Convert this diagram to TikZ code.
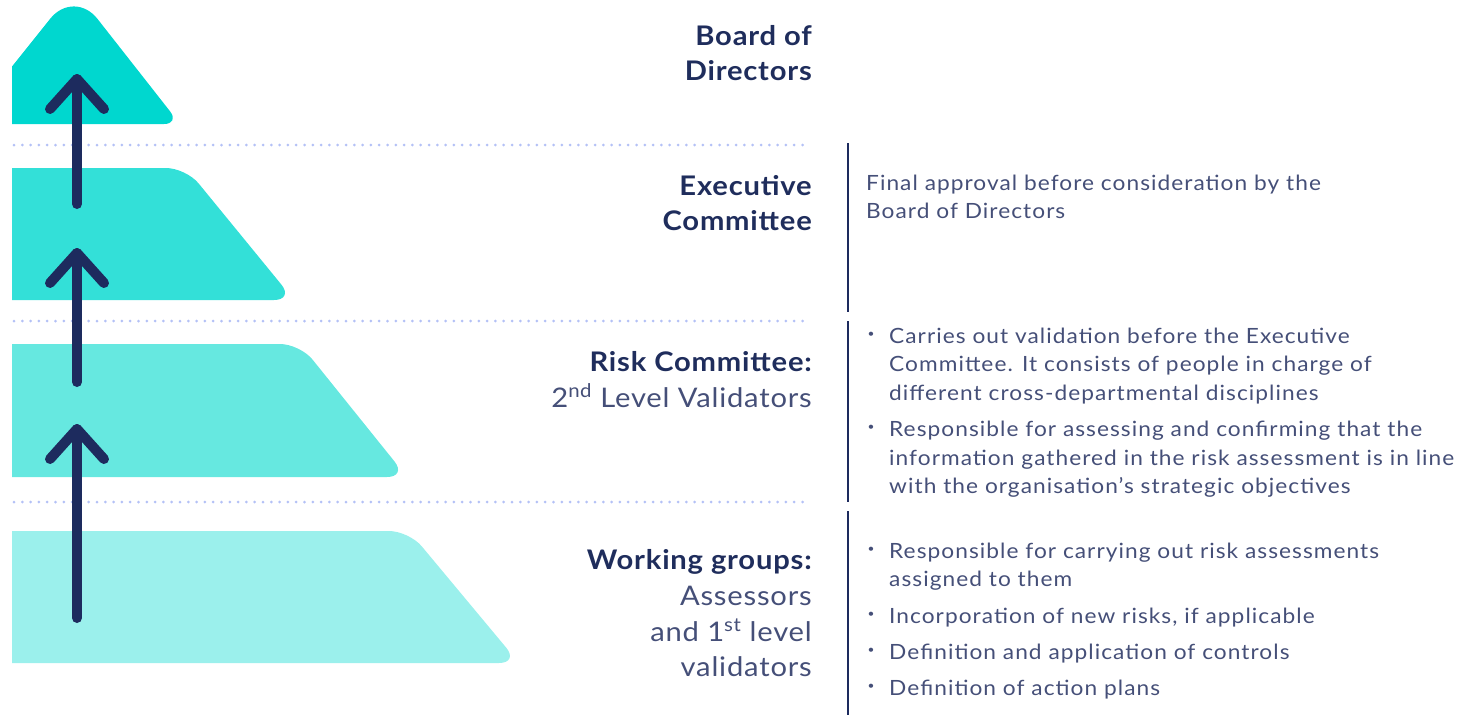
\documentclass[tikz,border=0pt]{standalone}
\usepackage{fontspec}
\setmainfont[FakeStretch=1.08, LetterSpace=3]{Lato}
\usetikzlibrary{calc}
\definecolor{lay1}{HTML}{00D7CF}
\definecolor{lay2}{HTML}{33E0D8}
\definecolor{lay3}{HTML}{66E8E0}
\definecolor{lay4}{HTML}{9BF0EC}
\definecolor{navy}{HTML}{1D2B5E}
\definecolor{headc}{HTML}{1F2D5C}
\definecolor{bodyc}{HTML}{454F78}
\definecolor{dotc}{HTML}{B4C1F6}
\tikzset{
  head/.style={anchor=base east, inner sep=0pt, text=headc, font=\fontsize{27}{33}\selectfont\bfseries},
  sub/.style={anchor=base east, inner sep=0pt, text=bodyc, font=\fontsize{27}{33}\selectfont},
  body/.style={anchor=base west, inner sep=0pt, text=bodyc, font=\fontsize{21}{28}\selectfont\addfontfeature{LetterSpace=5}},
  bul/.style={anchor=center, inner sep=0pt, text=bodyc, font=\fontsize{11}{11}\selectfont},
  uparrow/.style={draw=navy, line width=10pt, line cap=round, line join=round},
  dotline/.style={draw=dotc, line width=3pt, line cap=round, dash pattern=on 0pt off 8.3pt},
  sep/.style={draw=navy, line width=2.6pt}
}
\begin{document}
\begin{tikzpicture}[x=1pt,y=-1pt]
\useasboundingbox (0,0) rectangle (1461,715);
% layers
\begin{scope}
\clip (12,-60) rectangle (700,715);
\fill[lay1] (-34,124) [rounded corners=38] -- (74,-11) [rounded corners=16] -- (180,124) -- cycle;
\fill[lay2, rounded corners=20] (-60,168) -- (186,168) -- (294,300) -- (-60,300) -- cycle;
\fill[lay3, rounded corners=20] (-60,344) -- (300,344) -- (407,477) -- (-60,477) -- cycle;
\fill[lay4, rounded corners=20] (-60,531) -- (409,531) -- (519,663) -- (-60,663) -- cycle;
\end{scope}
% dotted separators
\coordinate (d1a) at (14,145); \coordinate (d1b) at (806,145);
\coordinate (d2a) at (14,321); \coordinate (d2b) at (806,321);
\coordinate (d3a) at (14,502); \coordinate (d3b) at (806,502);
\draw[dotline] (d1a) -- (d1b);
\draw[dotline] (d2a) -- (d2b);
\draw[dotline] (d3a) -- (d3b);
% arrows
\coordinate (t1) at (77,79); \coordinate (b1) at (77,204);
\coordinate (t2) at (77,253); \coordinate (b2) at (77,382);
\coordinate (t3) at (77,429); \coordinate (b3) at (77,618);
\draw[uparrow] (b1) -- (t1);
\draw[uparrow] ($(t1)+(-27,30)$) -- (t1) -- ($(t1)+(27,30)$);
\draw[uparrow] (b2) -- (t2);
\draw[uparrow] ($(t2)+(-27,30)$) -- (t2) -- ($(t2)+(27,30)$);
\draw[uparrow] (b3) -- (t3);
\draw[uparrow] ($(t3)+(-27,30)$) -- (t3) -- ($(t3)+(27,30)$);
% vertical separators
\coordinate (v1a) at (848,143); \coordinate (v1b) at (848,312);
\coordinate (v2a) at (848,321); \coordinate (v2b) at (848,502);
\coordinate (v3a) at (848,511); \coordinate (v3b) at (848,715);
\draw[sep] (v1a) -- (v1b);
\draw[sep] (v2a) -- (v2b);
\draw[sep] (v3a) -- (v3b);
% headings
\node[head] (h1a) at (812,45) {Board of};
\node[head] (h1b) at (812,80) {Directors};
\node[head] (h2a) at (812,195) {Executive};
\node[head] (h2b) at (812,230) {Committee};
\node[head] (h3a) at (812,371) {Risk Committee:};
\node[sub]  (h3b) at (812,407) {2\textsuperscript{nd} Level Validators};
\node[head] (h4a) at (812,569) {Working groups:};
\node[sub]  (h4b) at (812,605) {Assessors};
\node[sub]  (h4c) at (812,641) {and 1\textsuperscript{st} level};
\node[sub]  (h4d) at (812,676) {validators};
% body texts
\node[body] (e1) at (866,190) {Final approval before consideration by the};
\node[body] (e2) at (866,218) {Board of Directors};
\node[bul] (rb1) at (871,335) {•};
\node[body] (r1) at (889,343) {Carries out validation before the Executive};
\node[body] (r2) at (889,371) {Committee. It consists of people in charge of};
\node[body] (r3) at (889,400) {different cross-departmental disciplines};
\node[bul] (rb2) at (871,428) {•};
\node[body] (r4) at (889,436) {Responsible for assessing and confirming that the};
\node[body] (r5) at (889,465) {information gathered in the risk assessment is in line};
\node[body] (r6) at (889,493) {with the organisation's strategic objectives};
\node[bul] (wb1) at (871,550) {•};
\node[body] (w1) at (889,558) {Responsible for carrying out risk assessments};
\node[body] (w2) at (889,586) {assigned to them};
\node[bul] (wb2) at (871,615) {•};
\node[body] (w3) at (889,623) {Incorporation of new risks, if applicable};
\node[bul] (wb3) at (871,651) {•};
\node[body] (w4) at (889,659) {Definition and application of controls};
\node[bul] (wb4) at (871,687) {•};
\node[body] (w5) at (889,695) {Definition of action plans};
\end{tikzpicture}
\end{document}
